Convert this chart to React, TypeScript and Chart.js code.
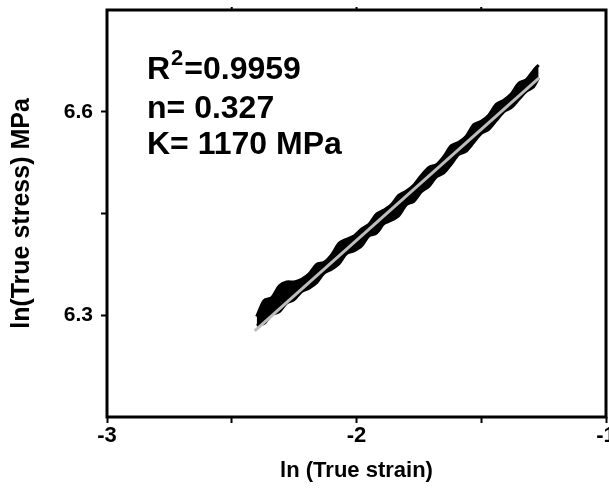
import React, { useEffect, useRef } from "react";
import { Chart, registerables } from "chart.js";

Chart.register(...registerables);

// ln(true strain) sample positions of the measured band
const strainX = [
  -2.40, -2.37, -2.34, -2.31, -2.28, -2.25, -2.22, -2.19, -2.16, -2.13,
  -2.10, -2.07, -2.04, -2.01, -1.98, -1.95, -1.92, -1.89, -1.86, -1.83,
  -1.80, -1.77, -1.74, -1.71, -1.68, -1.65, -1.62, -1.59, -1.56, -1.53,
  -1.50, -1.47, -1.44, -1.41, -1.38, -1.35, -1.32, -1.29, -1.27,
];
// upper edge of the noisy measured ln(true stress) band
const stressUpper = [
  6.298, 6.322, 6.326, 6.343, 6.349, 6.349, 6.353, 6.361, 6.375, 6.378,
  6.389, 6.406, 6.412, 6.417, 6.427, 6.434, 6.449, 6.455, 6.463, 6.477,
  6.483, 6.492, 6.506, 6.518, 6.522, 6.534, 6.550, 6.555, 6.564, 6.581,
  6.586, 6.595, 6.611, 6.617, 6.626, 6.642, 6.647, 6.661, 6.669,
];
// lower edge of the noisy measured band
const stressLower = [
  6.285, 6.288, 6.301, 6.305, 6.318, 6.323, 6.335, 6.340, 6.348, 6.362,
  6.368, 6.376, 6.391, 6.395, 6.402, 6.417, 6.421, 6.435, 6.440, 6.447,
  6.463, 6.468, 6.482, 6.490, 6.504, 6.510, 6.523, 6.537, 6.542, 6.555,
  6.568, 6.574, 6.587, 6.600, 6.606, 6.618, 6.630, 6.637, 6.650,
];
// linear fit end points
const fitX = [-2.408, -1.268];
const fitY = [6.277, 6.650];

const xTicks = [-3, -2.5, -2, -1.5, -1];
const yTicks = [6.3, 6.45, 6.6];
const yLabels = ["6.3", "", "6.6"];
const annotationLines = ["=0.9959", "n= 0.327", "K= 1170 MPa"];

const FONT = '"Liberation Sans", Arial, sans-serif';

export default function App() {
  const ref = useRef<HTMLCanvasElement | null>(null);

  useEffect(() => {
    const canvas = ref.current;
    if (!canvas) return;

    const framePlugin = {
      id: "frame",
      afterDraw(chart: any) {
        const { ctx, chartArea } = chart;
        const { left, right, top, bottom } = chartArea;
        ctx.save();
        ctx.strokeStyle = "#000";
        ctx.lineWidth = 3;
        ctx.strokeRect(left, top, right - left, bottom - top);
        // small ticks on top edge
        const xs = chart.scales.x;
        ctx.lineWidth = 2;
        [-2.5, -2, -1.5].forEach((v) => {
          const px = xs.getPixelForValue(v);
          ctx.beginPath();
          ctx.moveTo(px, top);
          ctx.lineTo(px, top - 3);
          ctx.stroke();
        });
        // annotation text
        ctx.fillStyle = "#000";
        ctx.textBaseline = "alphabetic";
        ctx.textAlign = "left";
        const x0 = left + 40;
        ctx.font = `bold 32px ${FONT}`;
        ctx.fillText("R", x0, top + 69);
        const rw = ctx.measureText("R").width;
        ctx.font = `bold 22px ${FONT}`;
        ctx.fillText("2", x0 + rw + 1, top + 55);
        const sw = ctx.measureText("2").width;
        ctx.font = `bold 32px ${FONT}`;
        ctx.fillText(annotationLines[0], x0 + rw + sw + 2, top + 69);
        ctx.fillText(annotationLines[1], x0, top + 108);
        ctx.fillText(annotationLines[2], x0, top + 144);
        ctx.restore();
      },
    };

    const chart = new Chart(canvas, {
      type: "line",
      data: {
        datasets: [
          {
            label: "fit",
            data: fitX.map((x, i) => ({ x, y: fitY[i] })),
            borderColor: "#bdbdbd",
            borderWidth: 3,
            pointRadius: 0,
            fill: false,
            order: 0,
          },
          {
            label: "upper",
            data: strainX.map((x, i) => ({ x, y: stressUpper[i] })),
            borderColor: "#000",
            borderWidth: 3,
            pointRadius: 0,
            tension: 0.3,
            fill: false,
            order: 2,
          },
          {
            label: "lower",
            data: strainX.map((x, i) => ({ x, y: stressLower[i] })),
            borderColor: "#000",
            backgroundColor: "#000",
            borderWidth: 3,
            pointRadius: 0,
            tension: 0.3,
            fill: "-1",
            order: 1,
          },
        ],
      },
      options: {
        responsive: false,
        animation: false,
        devicePixelRatio: 1,
        layout: { padding: { top: 10, right: 3, left: 0, bottom: 0 } },
        plugins: {
          legend: { display: false },
          tooltip: { enabled: false },
        },
        scales: {
          x: {
            type: "linear",
            min: -3,
            max: -1,
            afterBuildTicks: (axis: any) => {
              axis.ticks = xTicks.map((v) => ({ value: v }));
            },
            afterFit: (scale: any) => {
              scale.height = 80;
              scale.paddingLeft = 0;
              scale.paddingRight = 0;
            },
            grid: {
              drawOnChartArea: false,
              drawTicks: true,
              tickLength: 6,
              tickWidth: 2,
              tickColor: "#000",
            },
            border: { display: false },
            ticks: {
              autoSkip: false,
              maxRotation: 0,
              padding: 0,
              color: "#000",
              font: { family: FONT, size: 22, weight: "bold" },
              callback: (v: any) => (Number.isInteger(Number(v)) ? String(v) : ""),
            },
            title: {
              display: true,
              text: "ln (True strain)",
              color: "#000",
              font: { family: FONT, size: 22, weight: "bold" },
              padding: { top: 0, bottom: 13 },
            },
          },
          y: {
            type: "linear",
            min: 6.15,
            max: 6.75,
            afterBuildTicks: (axis: any) => {
              axis.ticks = yTicks.map((v) => ({ value: v }));
            },
            afterFit: (scale: any) => {
              scale.width = 107;
              scale.paddingTop = 0;
              scale.paddingBottom = 0;
            },
            grid: {
              drawOnChartArea: false,
              drawTicks: true,
              tickLength: 6,
              tickWidth: 2,
              tickColor: "#000",
            },
            border: { display: false },
            ticks: {
              autoSkip: false,
              padding: 8,
              color: "#000",
              font: { family: FONT, size: 21, weight: "bold" },
              callback: (v: any) => {
                const i = yTicks.indexOf(Number(v));
                return i >= 0 ? yLabels[i] : "";
              },
            },
            title: {
              display: true,
              text: "ln(True stress) MPa",
              color: "#000",
              font: { family: FONT, size: 25, weight: "bold" },
              padding: { top: 7, bottom: 0 },
            },
          },
        },
      },
      plugins: [framePlugin],
    });

    return () => chart.destroy();
  }, []);

  return (
    <div
      style={{
        position: "fixed",
        left: 0,
        top: 0,
        width: 609,
        height: 497,
        background: "#fff",
      }}
    >
      <canvas ref={ref} width={609} height={497} style={{ width: 609, height: 497 }} />
    </div>
  );
}
